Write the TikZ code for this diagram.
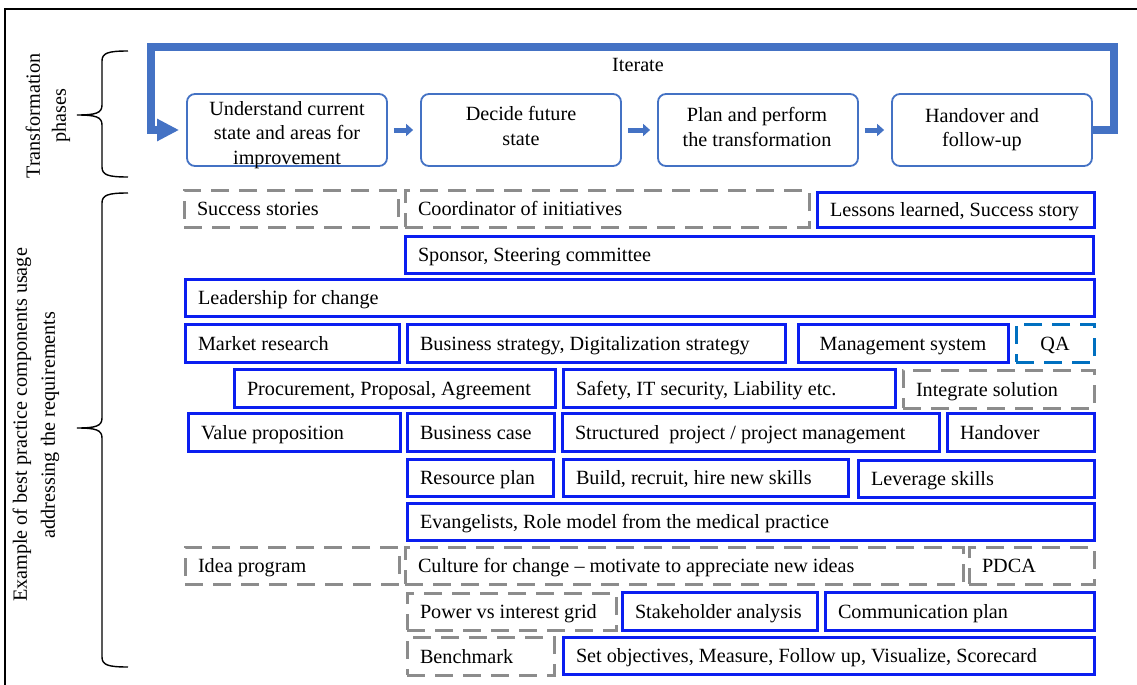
\documentclass[tikz,border=0pt]{standalone}
\usepackage{fontspec}
\setmainfont{Liberation Serif}
\usetikzlibrary{arrows.meta}

\definecolor{phaseblue}{HTML}{4472C4}
\definecolor{compblue}{RGB}{10,30,240}
\definecolor{optgray}{RGB}{140,140,140}
\definecolor{qablue}{HTML}{0070C0}

% curly brace opening to the right: top y, tip y, bottom y
\newcommand{\sidebrace}[3]{%
  \draw[line width=0.7pt] (128,#1) .. controls (108,#1) and (102,{#1+2}) .. (102,{#1+10})
    -- (102,{#2-10}) .. controls (102,{#2-2}) and (96,#2) .. (77,#2)
    .. controls (96,#2) and (102,{#2+2}) .. (102,{#2+10})
    -- (102,{#3-10}) .. controls (102,{#3-2}) and (108,#3) .. (128,#3);}

\tikzset{
  phase/.style={draw=phaseblue, line width=0.9pt, rounded corners=4pt,
    minimum width=100pt, minimum height=36pt},
  phasetext/.style={align=center, inner sep=0pt},
  stepto/.style={draw=phaseblue, line width=2.5pt, -{Triangle[length=3.5pt,width=6pt]},
    shorten <=3pt, shorten >=3.5pt},
  iterline/.style={draw=phaseblue, line width=4pt, -{Triangle[length=11pt,width=10.5pt]},
    shorten >=3.5pt},
  comp/.style={line width=1.5pt, inner xsep=6.5pt, inner ysep=0pt,
    text height=7pt, text depth=0pt},
  must/.style={comp, draw=compblue},
  maybe/.style={comp, draw=optgray, dash pattern=on 9pt off 5pt},
  qabox/.style={comp, draw=qablue, dash pattern=on 9pt off 5pt},
  % place a box by its pixel corners (x1,y1) and (x2,y2)
  place/.code n args={4}{%
    \pgfmathsetmacro\boxw{(#3-#1)/2}%
    \pgfmathsetmacro\boxh{(#4-#2)/2}%
    \pgfmathsetmacro\boxt{(#3-#1-26)/2}%
    \tikzset{at={({(#1+#3)/2},{(#2+#4)/2})}, minimum width=\boxw pt,
      minimum height=\boxh pt}},
  % same, text flush left
  box/.style n args={4}{place={#1}{#2}{#3}{#4},
    execute at begin node={\hbox to \boxt pt\bgroup},
    execute at end node={\hfil\egroup}}
}

\begin{document}
\begin{tikzpicture}[x=0.5pt, y=-0.5pt, font=\fontsize{10.1}{12.1}\selectfont]
  \useasboundingbox (0,0) rectangle (1137,685);
  \draw[line width=1pt] (5,685) -- (5,9) -- (1137,9);

  % left labels
  \node[rotate=90, align=center, font=\fontsize{10.1}{13}\selectfont] (tphase) at (48,116)
    {Transformation\\phases};
  \node[rotate=90, align=center, font=\fontsize{10.1}{14}\selectfont] (tcomp) at (36,425)
    {Example of best practice components usage\\addressing the requirements};
  \sidebrace{51}{115}{177}
  \sidebrace{193}{428}{667}

  % phases
  \node[phase] (p1) at (287,130) {};
  \node[phase] (p2) at (521,130) {};
  \node[phase] (p3) at (758,130) {};
  \node[phase] (p4) at (992,130) {};
  \node[phasetext] (p1t) at (287,135) {Understand current\\state and areas for\\improvement};
  \node[phasetext] (p2t) at (521,126) {Decide future\\state};
  \node[phasetext] (p3t) at (757,127) {Plan and perform\\the transformation};
  \node[phasetext] (p4t) at (982,130) {Handover and\\follow-up};
  \draw[stepto] (p1) -- (p2);
  \draw[stepto] (p2) -- (p3);
  \draw[stepto] (p3) -- (p4);
  \draw[iterline] (p4.east) -- (1114,130) -- (1114,47) -- (151,47) -- (151,130) -- (p1.west);
  \node (iter) at (638,65) {Iterate};

  % components
  \node[maybe, box={184}{190}{398}{227}] (succ) {Success stories};
  \node[maybe, box={405}{190}{809}{227}] (coord) {Coordinator of initiatives};
  \node[must, box={817}{192}{1094}{227}] (lessons) {Lessons learned, Success story};

  \node[must, box={405}{236}{1093}{273}] (sponsor) {Sponsor, Steering committee};

  \node[must, box={185}{279}{1094}{316}] (lead) {Leadership for change};

  \node[must, box={185}{324}{399}{362}] (market) {Market research};
  \node[must, box={407}{324}{785}{362}] (strat) {Business strategy, Digitalization strategy};
  \node[must, place={798}{324}{1008}{362}] (mgmt) {Management system};
  \node[qabox, place={1016}{324}{1094}{362}] (qa) {QA};

  \node[must, box={234}{369}{555}{407}] (procure) {Procurement, Proposal, Agreement};
  \node[must, box={563}{369}{895}{407}] (safety) {Safety, IT security, Liability etc.};
  \node[maybe, box={903}{370}{1094}{408}] (integ) {Integrate solution};

  \node[must, box={188}{413}{400}{451}] (value) {Value proposition};
  \node[must, box={407}{413}{554}{451}] (bcase) {Business case};
  \node[must, box={562}{413}{939}{451}] (struct) {Structured\ \ project / project management};
  \node[must, box={947}{413}{1094}{451}] (handover) {Handover};

  \node[must, box={407}{459}{553}{496}] (resource) {Resource plan};
  \node[must, box={563}{459}{848}{496}] (build) {Build, recruit, hire new skills};
  \node[must, box={858}{460}{1094}{497}] (leverage) {Leverage skills};

  \node[must, box={407}{503}{1094}{540}] (evang) {Evangelists, Role model from the medical practice};

  \node[maybe, box={185}{547}{399}{584}] (idea) {Idea program};
  \node[maybe, box={405}{547}{963}{584}] (culture) {Culture for change -- motivate to appreciate new ideas};
  \node[maybe, box={969}{547}{1094}{584}] (pdca) {PDCA};

  \node[maybe, box={407}{593}{616}{630}] (power) {Power vs interest grid};
  \node[must, box={622}{592}{817}{630}] (stake) {Stakeholder analysis};
  \node[must, box={825}{592}{1094}{630}] (comm) {Communication plan};

  \node[maybe, box={407}{637}{554}{675}] (bench) {Benchmark};
  \node[must, box={563}{637}{1094}{674}] (objectives) {Set objectives, Measure, Follow up, Visualize, Scorecard};
\end{tikzpicture}
\end{document}
